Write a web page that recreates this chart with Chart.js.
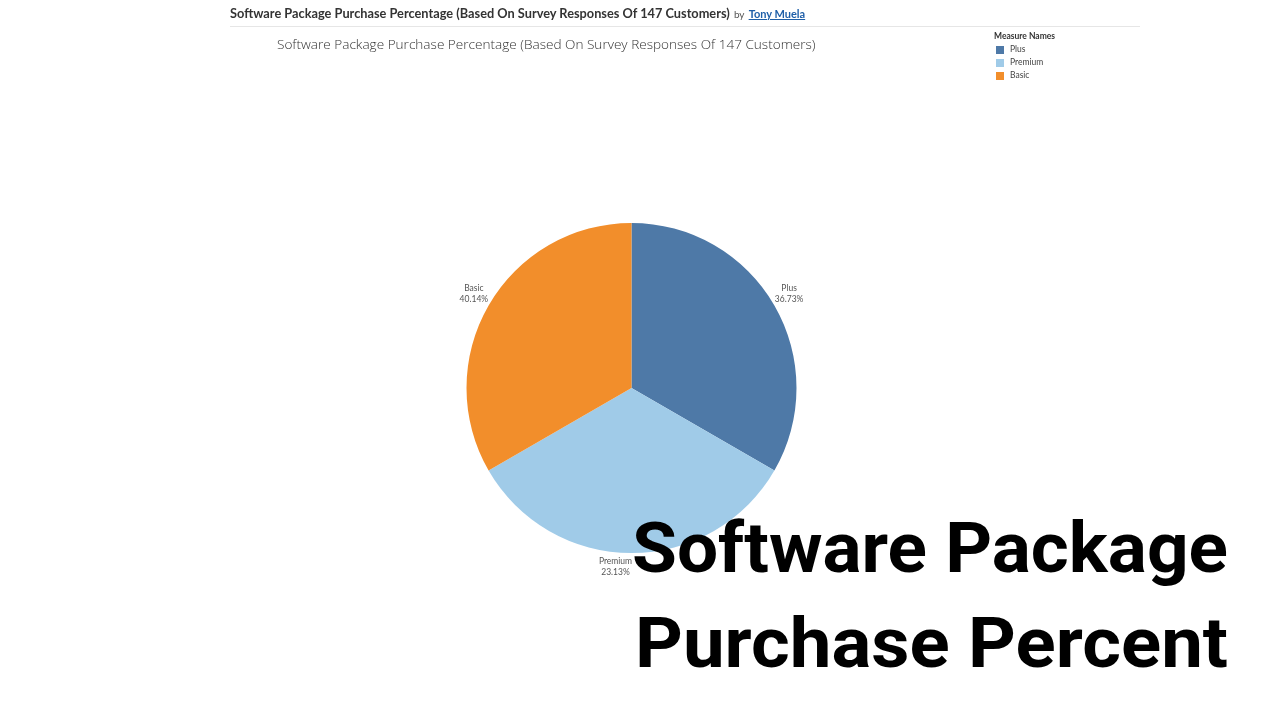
<!DOCTYPE html>
<html><head><meta charset="utf-8">
<script src="https://cdn.jsdelivr.net/npm/chart.js@4"></script>
<style>
html,body{margin:0;padding:0;background:#fff;width:1280px;height:720px;overflow:hidden;}
#wrap{position:relative;width:1280px;height:720px;}
canvas{position:absolute;left:0;top:0;}
.abs{position:absolute;white-space:nowrap;}
.big{position:absolute;white-space:nowrap;font-family:Roboto,"Noto Sans",sans-serif;font-weight:700;font-size:70px;line-height:1;color:#000;transform-origin:0 0;}
</style></head><body>
<div id="wrap">
<canvas id="c" width="1280" height="720"></canvas>
<div id="hdr" class="abs" style="left:230px;top:4px;font-family:Lato,'Noto Sans',sans-serif;line-height:16px;">
<span id="hdrTitle" style="font-weight:700;color:#333;font-size:12px;"></span>
<span style="color:#555;font-size:10px;">by</span>
<span style="color:#1f5fa8;text-decoration:underline;font-weight:700;font-size:11px;">Tony Muela</span>
</div>
<div class="abs" style="left:230px;top:26px;width:910px;height:1px;background:#e6e6e6"></div>
<div id="sub" class="abs" style="left:277px;top:35px;font-family:'Open Sans','Noto Sans',sans-serif;font-weight:300;color:#333;font-size:13px;line-height:18px;"></div>
<div id="legend" class="abs" style="left:994px;top:30px;font-family:Lato,'Noto Sans',sans-serif;font-size:8.5px;color:#444;"></div>
<div id="big1" class="big"></div>
<div id="big2" class="big"></div>
</div>
<script>
// ---- data ----
const titleText = "Software Package Purchase Percentage (Based On Survey Responses Of 147 Customers)";
const legendTitle = "Measure Names";
const categories = ["Plus", "Premium", "Basic"];
const sliceValues = [49, 49, 49];
const percentLabels = ["36.73%", "23.13%", "40.14%"];
const sliceColors = ["#4e79a7", "#a0cbe8", "#f28e2b"];
const overlayLines = ["Software Package", "Purchase Percent"];

// ---- header ----
function fitWidth(el, target){
  const w = el.getBoundingClientRect().width;
  const fs = parseFloat(getComputedStyle(el).fontSize);
  el.style.fontSize = (fs * target / w) + 'px';
}
const ht = document.getElementById('hdrTitle');
ht.textContent = titleText;
fitWidth(ht, 500);
const sub = document.getElementById('sub');
sub.textContent = titleText;
fitWidth(sub, 539);

// ---- legend ----
const lg = document.getElementById('legend');
let html = '<div style="font-weight:700;color:#333;height:13px;line-height:12px;">' + legendTitle + '</div>';
categories.forEach((c,i)=>{
  html += '<div style="height:13px;line-height:13px;display:flex;align-items:center;">' +
    '<span style="display:inline-block;width:8px;height:8px;background:'+sliceColors[i]+';margin:0 6px 0 2px;"></span>' +
    '<span>'+c+'</span></div>';
});
lg.innerHTML = html;

// ---- overlay big text ----
function placeBig(id, text, left, right, baseline){
  const el = document.getElementById(id);
  el.innerHTML = '<span class="t">'+text+'</span><span class="b" style="display:inline-block;width:0;height:0;vertical-align:baseline"></span>';
  el.style.left = left+'px'; el.style.top = '0px';
  const t = el.querySelector('.t'), b = el.querySelector('.b');
  const w = t.getBoundingClientRect().width;
  const bl = b.offsetTop;
  el.style.top = (baseline - bl) + 'px';
  el.style.transform = 'scaleX(' + ((right-left)/w) + ')';
}
placeBig('big1', overlayLines[0], 632, 1228, 572);
placeBig('big2', overlayLines[1], 635, 1228, 667);

// ---- chart ----
const sliceLabels = {
  id:'sliceLabels',
  afterDatasetsDraw(chart){
    const ctx = chart.ctx;
    const meta = chart.getDatasetMeta(0);
    ctx.save();
    ctx.font = '8.5px Lato, "Noto Sans", sans-serif';
    ctx.fillStyle = '#555';
    ctx.textAlign = 'center';
    ctx.textBaseline = 'middle';
    meta.data.forEach((arc,i)=>{
      const mid = (arc.startAngle + arc.endAngle)/2;
      const r = arc.outerRadius + 17;
      let x = arc.x + Math.cos(mid)*r;
      let y = arc.y + Math.sin(mid)*r;
      if (Math.sin(mid) > 0.9) { x -= 16; y -= 3; } else { y -= 3; }
      ctx.fillText(categories[i], x, y - 5.5);
      ctx.fillText(percentLabels[i], x, y + 5.5);
    });
    ctx.restore();
  }
};

new Chart(document.getElementById('c'), {
  type: 'pie',
  data: {
    labels: categories,
    datasets: [{
      data: sliceValues,
      backgroundColor: sliceColors,
      borderWidth: 0
    }]
  },
  options: {
    responsive: false,
    animation: false,
    layout: { padding: { left: 466.5, right: 483.5, top: 223, bottom: 167 } },
    plugins: { legend: { display: false }, tooltip: { enabled: false } }
  },
  plugins: [sliceLabels]
});
</script>
</body></html>
